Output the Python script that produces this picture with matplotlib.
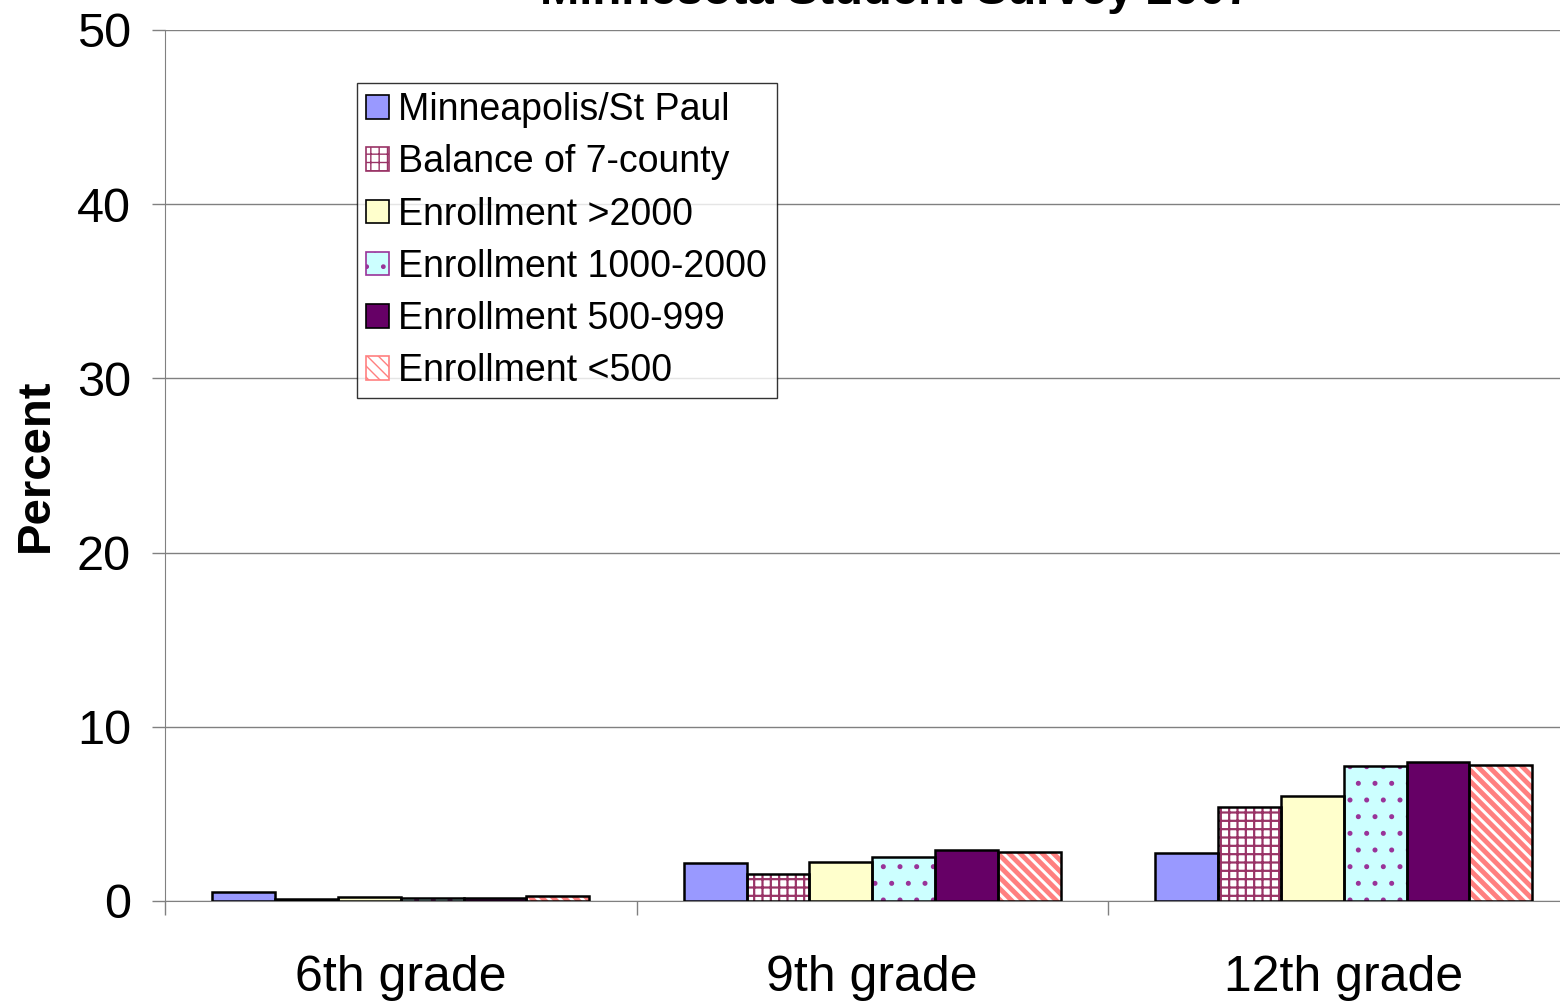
import matplotlib as mpl
import matplotlib.pyplot as plt
import numpy as np
from matplotlib.patches import Patch

plt.rcParams['font.family'] = ['Liberation Sans', 'DejaVu Sans']

# Data
grades = ["6th grade", "9th grade", "12th grade"]
series = ["Minneapolis/St Paul", "Balance of 7-county", "Enrollment >2000",
          "Enrollment 1000-2000", "Enrollment 500-999", "Enrollment <500"]
mpls = [0.5, 2.2, 2.75]
balance = [0.1, 1.55, 5.4]
enr_2000 = [0.25, 2.25, 6.0]
enr_1000 = [0.2, 2.5, 7.75]
enr_500 = [0.15, 2.9, 8.0]
enr_small = [0.3, 2.8, 7.8]
values = [mpls, balance, enr_2000, enr_1000, enr_500, enr_small]

# Styling: face colour, hatch, hatch colour, hatch line width
faces = ["#9999FF", "white", "#FFFFCC", "#CCFFFF", "#660066", "white"]
hatches = [None, "++", None, ".", None, "\\\\\\"]
hatch_cols = ["#9999FF", "#993366", "#FFFFCC", "#993399", "#660066", "#FF8080"]
hatch_lws = [1, 1.6, 1, 1.2, 1, 3.5]

fig = plt.figure(figsize=(15.6, 10.02), dpi=100)
ax = fig.add_axes([165 / 1560, 1 - 901 / 1002, 1414.5 / 1560, 871 / 1002])

x = np.arange(len(grades))
width = 0.8 / 6
handles = []
for i, vals in enumerate(values):
    pos = x - 0.4 + width * (i + 0.5)
    with mpl.rc_context({"hatch.linewidth": hatch_lws[i]}):
        ax.bar(pos, vals, width, color=faces[i], hatch=hatches[i],
               edgecolor=hatch_cols[i], linewidth=0, zorder=3)
        handles.append(Patch(facecolor=faces[i], hatch=hatches[i],
                             edgecolor=hatch_cols[i] if hatches[i] else "black",
                             linewidth=1.2, label=series[i]))
    ax.bar(pos, vals, width, fill=False, edgecolor="black", linewidth=1.8, zorder=4)

ax.set_xlim(-0.5, 2.5)
ax.set_ylim(0, 50)
ax.set_yticks(range(0, 51, 10))
ax.tick_params(axis="y", labelsize=35, length=9.5, width=1, color="#808080", pad=15)
ax.set_xticks([-0.5, 0.5, 1.5], minor=False)
ax.set_xticklabels([])
ax.set_xticks(x, minor=True)
ax.set_xticklabels(grades, minor=True, fontsize=36)
ax.tick_params(axis="x", which="major", length=10, width=1, color="#808080")
ax.tick_params(axis="x", which="minor", length=0, pad=39)
ax.yaxis.grid(True, color="#808080", linewidth=1, zorder=0)
ax.set_axisbelow(True)
for s in ["top", "right"]:
    ax.spines[s].set_visible(False)
ax.spines["left"].set_color("#808080")
ax.spines["bottom"].set_color("#808080")

ax.set_ylabel("Percent", fontsize=34, fontweight="bold", labelpad=14)

fig.text(0.574, 1 - 4 / 1002, "Minnesota Student Survey 2007", ha="center",
         va="baseline", fontsize=34, fontweight="bold")

leg = ax.legend(handles=handles, loc="upper left", bbox_to_anchor=(192 / 1414.5, 1 - 53 / 871),
                fontsize=27, frameon=True, fancybox=False, edgecolor="black",
                handlelength=0.6, handleheight=0.6, handletextpad=0.25,
                labelspacing=0.43, borderpad=0.25, borderaxespad=0)
leg.get_frame().set_linewidth(1)
leg.set_zorder(10)

fig.savefig("out.png", dpi=100)
